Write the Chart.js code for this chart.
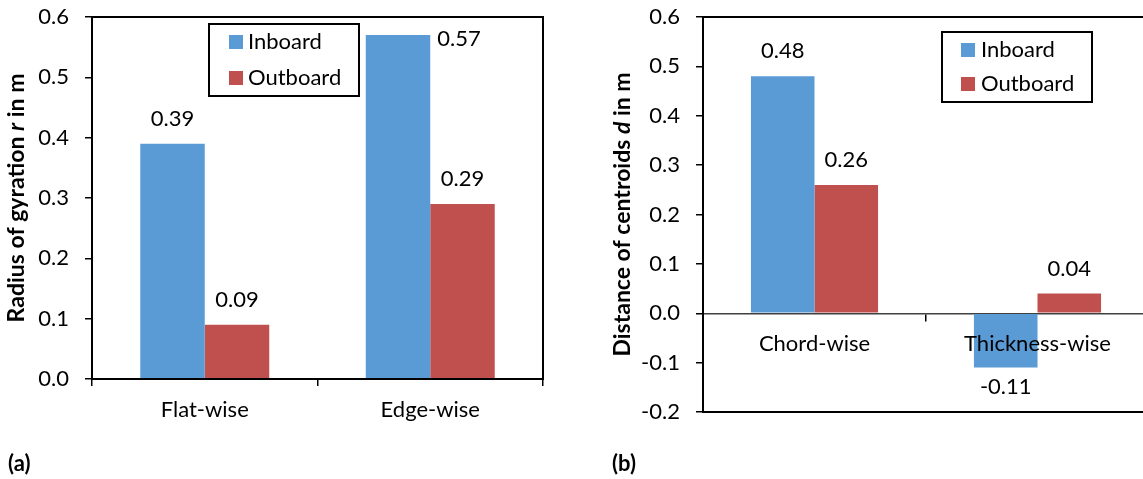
<!DOCTYPE html>
<html><head><meta charset="utf-8">
<script src="https://cdn.jsdelivr.net/npm/chart.js@4.4.1/dist/chart.umd.min.js"></script>
<style>
html,body{margin:0;padding:0;background:#fff;width:1143px;height:479px;overflow:hidden;position:relative}
canvas{position:absolute;top:0}
#ca{left:0}
#cb{left:580px}
.panel{position:absolute;top:450px;font:bold 22px Lato;line-height:26px;color:#000}
</style></head><body>
<canvas id="ca" width="570" height="479"></canvas>
<canvas id="cb" width="600" height="479"></canvas>
<div class="panel" style="left:8px">(a)</div>
<div class="panel" style="left:612px">(b)</div>
<script>
// ---- data ----
const seriesNames = ['Inboard', 'Outboard'];
const seriesColors = ['#5B9BD5', '#C0504D'];

const catsA = ['Flat-wise', 'Edge-wise'];
const inboardA = [0.39, 0.57];
const outboardA = [0.09, 0.29];
const titleA = ['Radius of gyration ', 'r', ' in m'];
const yMinA = 0.0, yMaxA = 0.6, yStepA = 0.1;

const catsB = ['Chord-wise', 'Thickness-wise'];
const inboardB = [0.48, -0.11];
const outboardB = [0.26, 0.04];
const titleB = ['Distance of centroids ', 'd', ' in m'];
const yMinB = -0.2, yMaxB = 0.6, yStepB = 0.1;

// ---- plugins ----
const FAM = 'Lato';
const plotBox = {
  id: 'plotBox',
  afterDraw(chart) {
    const a = chart.chartArea, c = chart.ctx;
    c.save(); c.strokeStyle = '#000'; c.lineWidth = 2;
    c.strokeRect(a.left, a.top, a.right - a.left, a.bottom - a.top);
    c.restore();
  }
};
const valueLabels = {
  id: 'valueLabels',
  afterDraw(chart) {
    const c = chart.ctx, a = chart.chartArea;
    c.save(); c.font = '22px ' + FAM; c.fillStyle = '#000'; c.textBaseline = 'middle';
    chart.data.datasets.forEach((ds, di) => {
      const meta = chart.getDatasetMeta(di);
      meta.data.forEach((bar, i) => {
        const v = ds.data[i], txt = v.toFixed(2);
        if (v >= 0) {
          const y = bar.y - 25;
          if (y - 11 < a.top) { c.textAlign = 'left'; c.fillText(txt, bar.x + bar.width / 2 + 7, bar.y + 4); }
          else { c.textAlign = 'center'; c.fillText(txt, bar.x, y); }
        } else { c.textAlign = 'center'; c.fillText(txt, bar.x, bar.y + 19); }
      });
    });
    c.restore();
  }
};
const yTitle = {
  id: 'yTitle',
  afterDraw(chart, args, o) {
    const parts = o.parts; if (!parts) return;
    const c = chart.ctx, a = chart.chartArea;
    const fonts = ['bold 23px ' + FAM, 'italic bold 23px ' + FAM, 'bold 23px ' + FAM];
    c.save();
    const w = parts.map((p, i) => { c.font = fonts[i]; return c.measureText(p).width; });
    const total = w.reduce((s, x) => s + x, 0);
    c.translate(o.x, (a.top + a.bottom) / 2); c.rotate(-Math.PI / 2);
    c.textBaseline = 'middle'; c.textAlign = 'left'; c.fillStyle = '#000';
    let x = -total / 2;
    parts.forEach((p, i) => { c.font = fonts[i]; c.fillText(p, x, 0); x += w[i]; });
    c.restore();
  }
};
const boxLegend = {
  id: 'boxLegend',
  afterDraw(chart, args, o) {
    const c = chart.ctx, a = chart.chartArea;
    const x = a.left + o.dx, y = a.top + o.dy;
    c.save();
    c.fillStyle = '#fff'; c.fillRect(x, y, o.w, o.h);
    c.strokeStyle = '#000'; c.lineWidth = 2; c.strokeRect(x, y, o.w, o.h);
    c.font = '22px ' + FAM; c.textBaseline = 'middle'; c.textAlign = 'left';
    chart.data.datasets.forEach((ds, i) => {
      const cy = y + o.row0 + i * o.rowGap;
      c.fillStyle = ds.backgroundColor; c.fillRect(x + o.sw0, cy - 7, 14, 14);
      c.fillStyle = '#000'; c.fillText(ds.label, x + o.tx, cy);
    });
    c.restore();
  }
};

function makeChart(id, cats, inb, outb, cfg) {
  const tickFont = { family: FAM, size: 22 };
  return new Chart(document.getElementById(id), {
    type: 'bar',
    data: {
      labels: cats,
      datasets: [
        { label: seriesNames[0], data: inb, backgroundColor: seriesColors[0] },
        { label: seriesNames[1], data: outb, backgroundColor: seriesColors[1] }
      ]
    },
    options: {
      responsive: false, animation: false, devicePixelRatio: 1,
      layout: { padding: cfg.padding },
      datasets: { bar: { categoryPercentage: cfg.catPct, barPercentage: 1, borderWidth: 0 } },
      plugins: {
        legend: { display: false }, tooltip: { enabled: false },
        yTitle: { parts: cfg.title, x: cfg.titleX },
        boxLegend: cfg.legend
      },
      scales: {
        x: Object.assign({
          grid: { display: true, drawOnChartArea: false, drawTicks: true, tickLength: 7, color: '#000', lineWidth: 1.5 },
          ticks: { font: tickFont, color: '#000', padding: cfg.xPad, z: 1 },
          afterFit(s) { s.height = cfg.xHeight; s.paddingLeft = 0; s.paddingRight = 0; }
        }, cfg.xExtra),
        y: {
          min: cfg.yMin, max: cfg.yMax,
          ticks: { stepSize: cfg.yStep, callback: v => Number(v).toFixed(1), font: tickFont, color: '#000', padding: 16 },
          grid: { drawOnChartArea: false, tickLength: 7, color: '#000', lineWidth: 1.5 },
          border: { display: false },
          afterFit(s) { s.width = cfg.yWidth; s.paddingTop = 0; s.paddingBottom = 0; }
        }
      }
    },
    plugins: [valueLabels, plotBox, yTitle, boxLegend]
  });
}

makeChart('ca', catsA, inboardA, outboardA, {
  padding: { left: 0, top: 17, right: 27, bottom: 0 },
  catPct: 0.572, title: titleA, titleX: 17,
  legend: { dx: 117, dy: 7, w: 150, h: 72, sw0: 20, tx: 39, row0: 18, rowGap: 36 },
  xPad: 11, xHeight: 100, xExtra: { border: { display: false } },
  yMin: yMinA, yMax: yMaxA, yStep: yStepA, yWidth: 92
});

makeChart('cb', catsB, inboardB, outboardB, {
  padding: { left: 0, top: 17, right: 31, bottom: 67 },
  catPct: 0.57, title: titleB, titleX: 43,
  legend: { dx: 239, dy: 15, w: 150, h: 70, sw0: 19, tx: 39, row0: 18, rowGap: 34 },
  xPad: 10, xHeight: 0,
  xExtra: { position: { y: 0 }, border: { display: true, color: '#404040', width: 1.5 } },
  yMin: yMinB, yMax: yMaxB, yStep: yStepB, yWidth: 123
});
</script>
</body></html>
